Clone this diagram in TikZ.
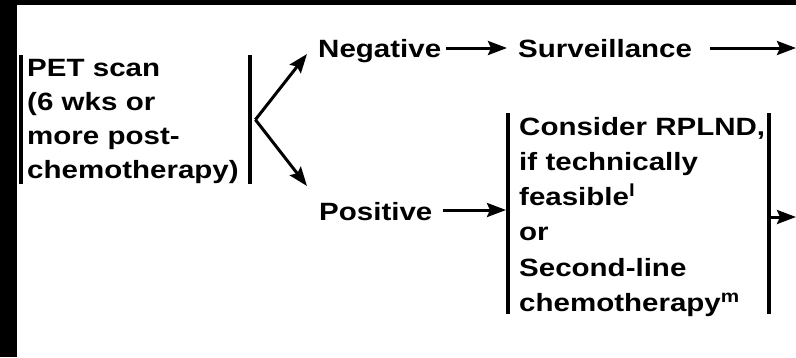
\documentclass[tikz,border=0pt]{standalone}
\usepackage{fontspec}
\newfontfamily\diagfont{Liberation Sans}[FakeStretch=1.18]
\usetikzlibrary{arrows.meta}
\begin{document}
\begin{tikzpicture}[x=1pt,y=-1pt,
  txt/.style={inner sep=0pt, anchor=base west, font=\diagfont\bfseries\fontsize{25}{34.3}\selectfont},
  multi/.style={txt, text width=300pt, align=left},
  frame/.style={draw=none, inner sep=0pt, anchor=north west},
  bar/.style={line width=4pt},
  arr/.style={line width=3pt, -{Stealth[length=19pt,width=14pt,inset=3pt]}}]
\useasboundingbox (0,0) rectangle (796,357);
\fill[black] (0,0) rectangle (796,357);
\fill[white] (17,5) rectangle (796,357);

% box frames (left and right bars)
\node[frame, minimum width=229pt, minimum height=129pt] (petbox) at (21,55) {};
\node[frame, minimum width=261pt, minimum height=201pt] (box2) at (508,113) {};
\foreach \b in {petbox,box2}{
  \draw[bar] (\b.north west) -- (\b.south west);
  \draw[bar] (\b.north east) -- (\b.south east);
}

% texts
\node[multi] (pet) at (27,76) {PET scan\\(6 wks or\\more post-\\chemotherapy)};
\node[txt] (neg) at (318,57) {Negative};
\node[txt] (surv) at (518,57) {Surveillance};
\node[txt] (pos) at (319,220) {Positive};
\node[multi, font=\diagfont\bfseries\fontsize{25}{35.3}\selectfont] (opts) at (519,135)
  {Consider RPLND,\\if technically\\feasible\textsuperscript{l}\\or\\Second-line\\chemotherapy\textsuperscript{m}};

% connectors
\coordinate (apex) at ([xshift=5pt]petbox.east);
\coordinate (negtip) at (307,54);
\coordinate (postip) at (307,186);
\coordinate (survout) at (796,48);
\coordinate (optout) at (796,217);
\draw[arr] (apex) -- (negtip);
\draw[arr] (apex) -- (postip);
\draw[arr, shorten <=5pt, shorten >=11pt] (neg.east |- 0,48) -- (surv.west |- 0,48);
\draw[arr] ([xshift=18pt]surv.east |- 0,48) -- (survout);
\draw[arr, shorten <=10pt, shorten >=2pt] (pos.east |- 0,210) -- (box2.west |- 0,210);
\draw[arr] (box2.east |- optout) -- (optout);
\end{tikzpicture}
\end{document}
